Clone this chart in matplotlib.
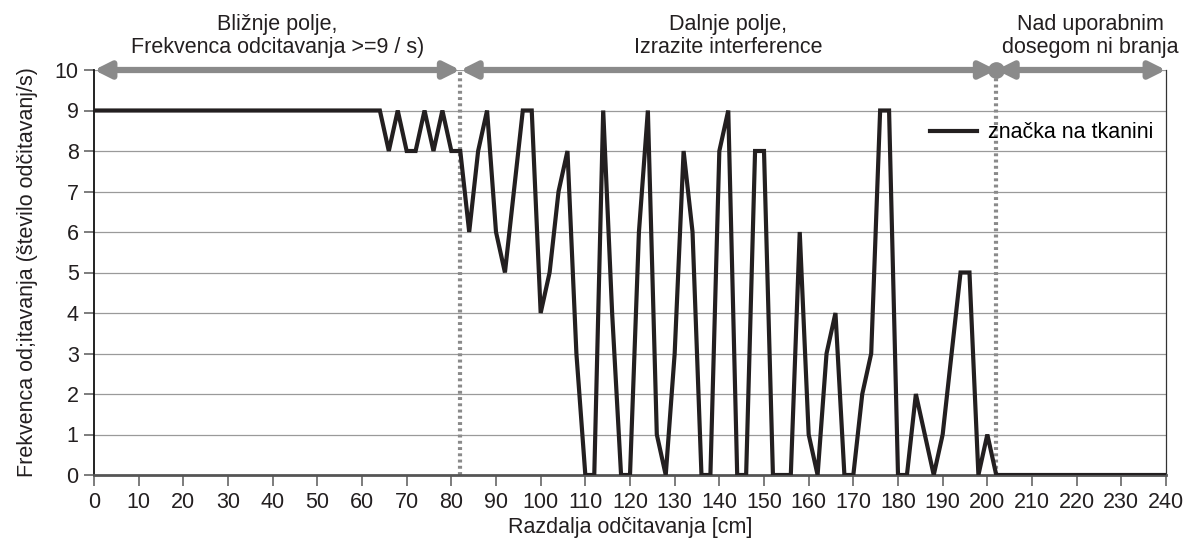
import matplotlib.pyplot as plt
import numpy as np

plt.rcParams['font.family'] = ['Liberation Sans', 'DejaVu Sans']
plt.rcParams['font.size'] = 15.5

# razdalja v cm, vzorci na 2 cm
razdalja = np.arange(0, 241, 2)
frekvenca = [9, 9, 9, 9, 9, 9, 9, 9, 9, 9,          # 0-18
             9, 9, 9, 9, 9, 9, 9, 9, 9, 9,          # 20-38
             9, 9, 9, 9, 9, 9, 9, 9, 9, 9,          # 40-58
             9, 9, 9, 8, 9, 8, 8, 9, 8, 9,          # 60-78
             8, 8, 6, 8, 9, 6, 5, 7, 9, 9,          # 80-98
             4, 5, 7, 8, 3, 0, 0, 9, 4, 0,          # 100-118
             0, 6, 9, 1, 0, 3, 8, 6, 0, 0,          # 120-138
             8, 9, 0, 0, 8, 8, 0, 0, 0, 6,          # 140-158
             1, 0, 3, 4, 0, 0, 2, 3, 9, 9,          # 160-178
             0, 0, 2, 1, 0, 1, 3, 5, 5, 0,          # 180-198
             1, 0, 0, 0, 0, 0, 0, 0, 0, 0,          # 200-218
             0, 0, 0, 0, 0, 0, 0, 0, 0, 0,          # 220-238
             0]                                     # 240

meje = [0, 82, 202, 240]
oznake_obmocij = ['Bližnje polje,\nFrekvenca odcitavanja >=9 / s)',
                  'Dalnje polje,\nIzrazite interference',
                  'Nad uporabnim\ndosegom ni branja']
sredine = [41, 142, 223]

siva = '#8a8a8a'
crna = '#231f20'

fig = plt.figure(figsize=(11.92, 5.42), dpi=100)
ax = fig.add_axes([94 / 1192, 1 - 475 / 542, (1166 - 94) / 1192, (475 - 70) / 542])

ax.set_xlim(0, 240)
ax.set_ylim(0, 10)
ax.set_xticks(np.arange(0, 241, 10))
ax.set_yticks(np.arange(0, 11, 1))

for y in range(1, 11):
    ax.axhline(y, color='#9a9a9a', lw=0.9, zorder=1)

ax.plot(razdalja, frekvenca, color=crna, lw=3.0, solid_joinstyle='miter',
        label='značka na tkanini', zorder=3)

for x in meje[1:3]:
    ax.plot([x, x], [0, 10], color=siva, lw=3.0, ls=(0, (0.7, 0.8)), zorder=2)

for a, b in zip(meje[:-1], meje[1:]):
    ax.annotate('', xy=(b, 10), xytext=(a, 10),
                arrowprops=dict(arrowstyle='<|-|>', color=siva, lw=4.5,
                                mutation_scale=24, shrinkA=0, shrinkB=0),
                annotation_clip=False, zorder=4)
ax.plot([meje[2]], [10], 'o', color=siva, ms=11, clip_on=False, zorder=5)

for x, t in zip(sredine, oznake_obmocij):
    ax.text(x, 10.3, t, ha='center', va='bottom', fontsize=15.5,
            color=crna, linespacing=1.1)

ax.legend(loc='center right', bbox_to_anchor=(1.0, 0.845), frameon=False,
          handlelength=2.2, handletextpad=0.5, fontsize=15.5, borderaxespad=0.2)

ax.spines['top'].set_visible(False)
ax.spines['right'].set_color('#333333')
ax.spines['right'].set_linewidth(0.9)
ax.spines['left'].set_color('#111111')
ax.spines['left'].set_linewidth(1.3)
ax.spines['bottom'].set_color('#555555')
ax.spines['bottom'].set_linewidth(2.0)
ax.tick_params(axis='x', direction='out', length=8, width=1.2, color='#666666',
               labelsize=15.5, pad=4, labelcolor=crna)
ax.tick_params(axis='y', direction='out', length=7, width=1.2, color='#666666',
               labelsize=15.5, pad=4, labelcolor=crna)

ax.set_xlabel('Razdalja odčitavanja [cm]', fontsize=15.5, labelpad=3, color=crna)
ax.set_ylabel('Frekvenca od;itavanja (število odčitavanj/s)', fontsize=15.5,
              labelpad=12, color=crna)

fig.savefig('out.png', dpi=100)
